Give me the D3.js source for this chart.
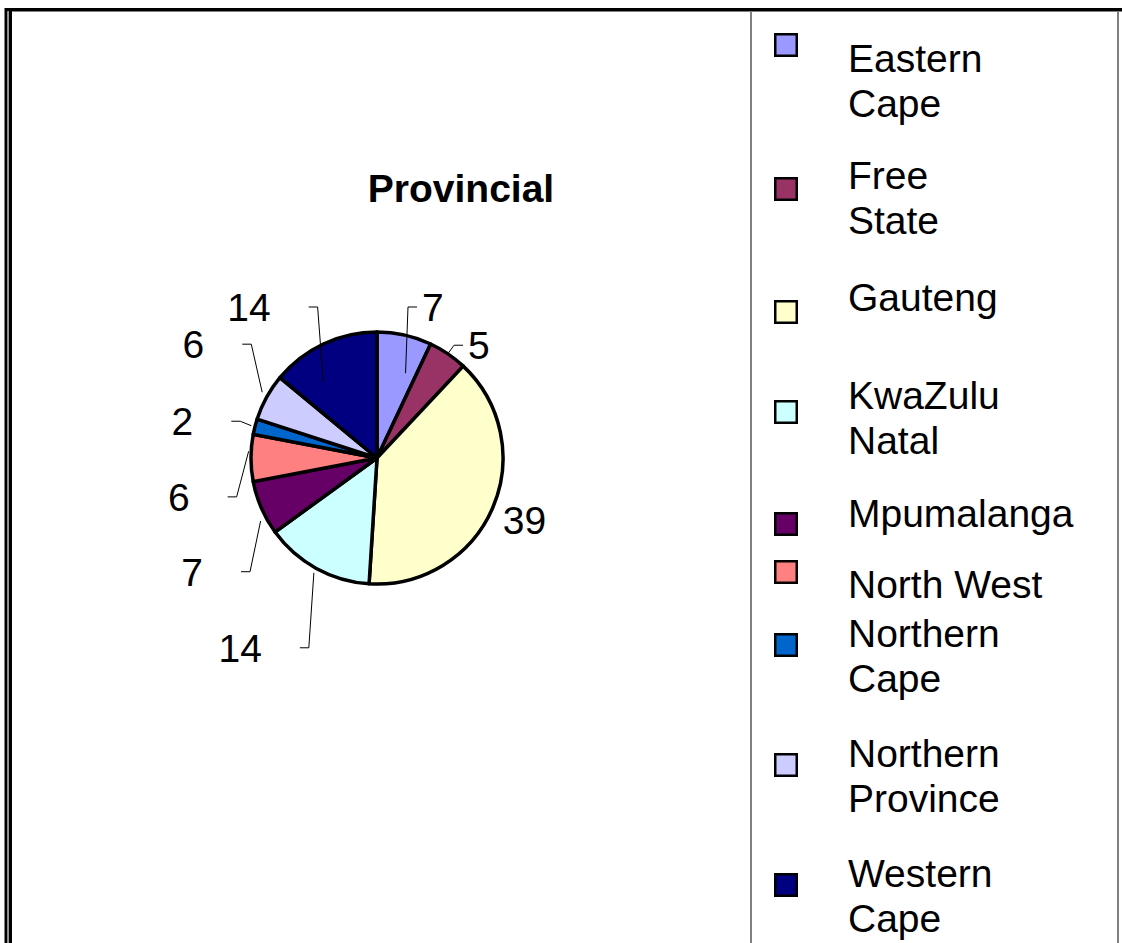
<!DOCTYPE html>
<html>
<head>
<meta charset="utf-8">
<script src="https://cdn.jsdelivr.net/npm/d3@7"></script>
<style>
  body { margin: 0; background: #fff; }
  svg { display: block; }
  text { font-family: "Liberation Sans", Arial, sans-serif; fill: #000; }
</style>
</head>
<body>
<svg width="1122" height="943"></svg>
<script>
// data
var provinces = ["Eastern Cape", "Free State", "Gauteng", "KwaZulu Natal", "Mpumalanga",
                 "North West", "Northern Cape", "Northern Province", "Western Cape"];
var legendLines = [["Eastern", "Cape"], ["Free", "State"], ["Gauteng"], ["KwaZulu", "Natal"],
                   ["Mpumalanga"], ["North West"], ["Northern", "Cape"], ["Northern", "Province"],
                   ["Western", "Cape"]];
var shares = [7, 5, 39, 14, 7, 6, 2, 6, 14];
var colours = ["#9999ff", "#993366", "#ffffcc", "#ccffff", "#660066",
               "#ff8080", "#0066cc", "#ccccff", "#000080"];

// the labels were dragged by hand in the original, so keep their layout apart
var labelShift = [7.7, 7.9, -0.5, 7, -8.2, -11.1, -3.7, 3, -15.1];   // degrees off the mid angle
var labelDist = [161, 152, 160, 234, 217, 202, 198, 216, 198];      // px from the centre
var leaderShift = [6, 0, 0, 0, -5, 3, 0, 1, -10];
var leaderDepth = [0.71, 1.0, null, 1.04, 1.05, 1.02, 1.03, 1.05, 0.74];
var legendTextY = [72, 189, 311, 409, 527, 598, 647, 767, 887];
var legendSwatchY = [33, 177, 300, 400, 512, 560, 633, 753, 873];

var svg = d3.select("svg");
var cx = 377, cy = 458, r = 126;

// frame of the scanned sheet
svg.append("rect").attr("x", 5).attr("y", 8).attr("width", 1117).attr("height", 3.5).attr("fill", "#000");
svg.append("rect").attr("x", 4.5).attr("y", 8).attr("width", 3).attr("height", 935).attr("fill", "#000");
svg.append("rect").attr("x", 7.5).attr("y", 11).attr("width", 1.5).attr("height", 932).attr("fill", "#999");
svg.append("rect").attr("x", 9).attr("y", 11).attr("width", 3).attr("height", 932).attr("fill", "#000");
svg.append("rect").attr("x", 750).attr("y", 11).attr("width", 2).attr("height", 932).attr("fill", "#808080");
svg.append("rect").attr("x", 1117).attr("y", 11).attr("width", 2).attr("height", 932).attr("fill", "#808080");

// title
svg.append("text")
    .attr("x", 461)
    .attr("y", 202)
    .attr("text-anchor", "middle")
    .attr("font-size", 39)
    .attr("font-weight", "bold")
    .text("Provincial");

// pie
var pie = d3.pie().sort(null).value(function(d) { return d; });
var arcs = pie(shares);
var arc = d3.arc().innerRadius(0).outerRadius(r);

var g = svg.append("g").attr("transform", "translate(" + cx + "," + cy + ")");

g.selectAll(".slice")
    .data(arcs)
    .enter().append("path")
    .attr("class", "slice")
    .attr("d", arc)
    .attr("fill", function(d, i) { return colours[i]; })
    .attr("stroke", "#000")
    .attr("stroke-width", 3.5)
    .attr("stroke-linejoin", "round");

function polar(deg, dist) {
    var a = deg * Math.PI / 180;
    return [dist * Math.sin(a), -dist * Math.cos(a)];
}
function midDeg(d) {
    return (d.startAngle + d.endAngle) / 2 * 180 / Math.PI;
}

var labels = g.selectAll(".lbl")
    .data(arcs)
    .enter().append("text")
    .attr("class", "lbl")
    .attr("x", function(d, i) { return polar(midDeg(d) + labelShift[i], labelDist[i])[0]; })
    .attr("y", function(d, i) { return polar(midDeg(d) + labelShift[i], labelDist[i])[1]; })
    .attr("dy", "0.36em")
    .attr("text-anchor", "middle")
    .attr("font-size", 39)
    .text(function(d, i) { return shares[i]; });

// leader lines: short tick beside the label, then down to the slice
labels.each(function(d, i) {
    if (leaderDepth[i] == null) return;
    var p = polar(midDeg(d) + labelShift[i], labelDist[i]);
    var w = this.getBBox().width;
    var near, elbow;
    if (p[0] > 0) {
        near = p[0] - w / 2 - 5;
        elbow = near - 9;
    } else {
        near = p[0] + w / 2 + 38;
        elbow = near + 9;
    }
    var a = polar(midDeg(d) + leaderShift[i], r * leaderDepth[i]);
    g.append("polyline")
        .attr("points", [[near, p[1]], [elbow, p[1]], a].join(" "))
        .attr("fill", "none")
        .attr("stroke", "#000")
        .attr("stroke-width", 1);
});

// legend
var legend = svg.append("g");

legend.selectAll("rect")
    .data(provinces)
    .enter().append("rect")
    .attr("x", 775.25)
    .attr("y", function(d, i) { return legendSwatchY[i] + 1.25; })
    .attr("width", 21.5)
    .attr("height", 21.5)
    .attr("fill", function(d, i) { return colours[i]; })
    .attr("stroke", "#000")
    .attr("stroke-width", 2.5);

legend.selectAll("text")
    .data(legendLines)
    .enter().append("text")
    .attr("x", 848)
    .attr("y", function(d, i) { return legendTextY[i]; })
    .attr("font-size", 39)
    .selectAll("tspan")
    .data(function(d) { return d; })
    .enter().append("tspan")
    .attr("x", 848)
    .attr("dy", function(d, j) { return j ? 45 : 0; })
    .text(function(d) { return d; });
</script>
</body>
</html>
